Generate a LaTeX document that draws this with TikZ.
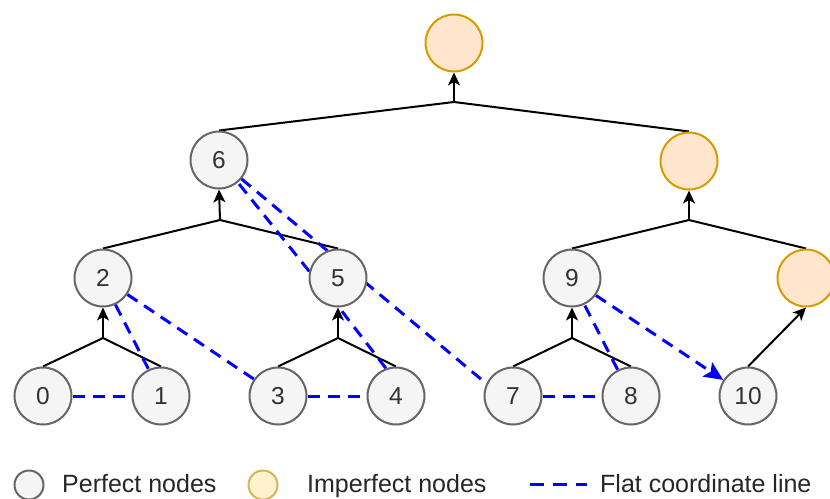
\documentclass[tikz,border=0pt]{standalone}
\usepackage{fontspec}
\setmainfont{Liberation Sans}
\usetikzlibrary{arrows.meta,backgrounds}
\definecolor{perfectfill}{HTML}{F5F5F5}
\definecolor{perfectline}{HTML}{666666}
\definecolor{imperffill}{HTML}{FFE6CC}
\definecolor{imperfline}{HTML}{D79B00}
\definecolor{legfill}{HTML}{FFF2CC}
\definecolor{legline}{HTML}{D6B656}
\definecolor{labelgray}{HTML}{333333}
\definecolor{flatblue}{HTML}{0000FF}
\tikzset{
  perfect/.style={circle, draw=perfectline, fill=perfectfill, line width=2pt,
    minimum size=57pt, inner sep=0pt, text=labelgray, font=\fontsize{24.5}{28}\selectfont},
  imperfect/.style={perfect, draw=imperfline, fill=imperffill},
  tree/.style={line width=2pt, draw=black},
  up/.style={tree, -{Stealth[length=13pt,width=12pt,inset=3.5pt]}},
  flat/.style={draw=flatblue, line width=3pt, dash pattern=on 12pt off 8pt},
  flatarrow/.style={flat, -{Stealth[length=19pt,width=17pt,inset=4pt,fill=flatblue]}},
  legtext/.style={anchor=base west, inner sep=0pt, font=\fontsize{25}{28}\selectfont, text=black!85},
  legcircle/.style={circle, line width=2pt, minimum size=29pt, inner sep=0pt}
}
\begin{document}
\begin{tikzpicture}[x=1pt,y=-1pt]
\path[use as bounding box] (0,0) rectangle (830,498);
\clip (0,0) rectangle (830,498);

% tree nodes
\node[imperfect] (top) at (454,43) {};
\node[perfect]   (n6)  at (219,160) {6};
\node[imperfect] (r2)  at (689,161) {};
\node[perfect]   (n2)  at (103,278) {2};
\node[perfect]   (n5)  at (338,278) {5};
\node[perfect]   (n9)  at (572,278) {9};
\node[imperfect] (r3)  at (806,278) {};
\node[perfect]   (n0)  at (43,396)  {0};
\node[perfect]   (n1)  at (161,396) {1};
\node[perfect]   (n3)  at (278,396) {3};
\node[perfect]   (n4)  at (396,396) {4};
\node[perfect]   (n7)  at (513,396) {7};
\node[perfect]   (n8)  at (631,396) {8};
\node[perfect]   (n10) at (748,396) {10};

% merge points of sibling pairs
\coordinate (j01)  at (103,338);
\coordinate (j34)  at (338,338);
\coordinate (j78)  at (572,338);
\coordinate (j25)  at (220,220);
\coordinate (j9r)  at (689,220);
\coordinate (jtop) at (454,102);

\begin{pgfonlayer}{background}
  % parent links
  \draw[tree] (n0.north) -- (j01) -- (n1.north);
  \draw[tree] (n3.north) -- (j34) -- (n4.north);
  \draw[tree] (n7.north) -- (j78) -- (n8.north);
  \draw[tree] (n2.north) -- (j25) -- (n5.north);
  \draw[tree] (n9.north) -- (j9r) -- (r3.north);
  \draw[tree] (n6.north) -- (jtop) -- (r2.north);
  \draw[up] (j01) -- (n2.south);
  \draw[up] (j34) -- (n5.south);
  \draw[up] (j78) -- (n9.south);
  \draw[up] (j25) -- (n6.south);
  \draw[up] (j9r) -- (r2.south);
  \draw[up] (jtop) -- (top.south);
  \draw[up] (n10.north) -- (r3.south);
  % flat coordinate line, post-order
  \draw[flat] (n0) -- (n1);
  \draw[flat] (n2.-65) -- (n1.115);
  \draw[flat] (n2.-34) -- (n3.145);
  \draw[flat] (n3) -- (n4);
  \draw[flat] (n4.110) -- (n5.-88);
  \draw[flat] (n5.167) -- (n6.-50);
  \draw[flat] (n6.-40) -- (n7.155);
  \draw[flat] (n7) -- (n8);
  \draw[flat] (n8.117) -- (n9.-65);
  \draw[flatarrow] (n9.-36) -- (n10.147);
\end{pgfonlayer}

% legend
\node[legcircle, draw=perfectline, fill=perfectfill] (lp) at (29,485) {};
\node[legtext] (lpt) at (62,492) {Perfect nodes};
\node[legcircle, draw=legline, fill=legfill] (li) at (263,485) {};
\node[legtext] (lit) at (307,492) {Imperfect nodes};
\coordinate (ls) at (530,484);
\coordinate (le) at (587,484);
\draw[flat, dash pattern=on 14pt off 9pt] (ls) -- (le);
\node[legtext] (lft) at (600,492) {Flat coordinate line};
\end{tikzpicture}
\end{document}
